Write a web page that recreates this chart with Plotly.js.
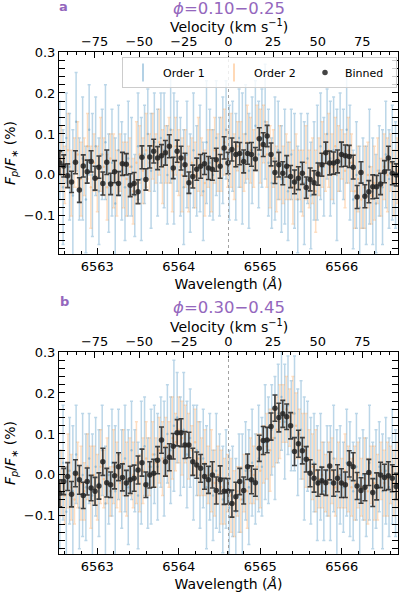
<!DOCTYPE html>
<html>
<head>
<meta charset="utf-8">
<script src="https://cdn.plot.ly/plotly-3.0.1.min.js"></script>
<style>html,body{margin:0;padding:0;background:#fff;overflow:hidden;width:400px;height:593px;}#chart{width:400px;height:593px;}</style>
</head>
<body>
<div id="chart"></div>
<script>
// ---------- data ----------
const lineCenter = 6564.61;          // H-alpha rest wavelength (Å), velocity zero
const wlRange = [6562.53, 6566.69];
const panelTitles = ['<i>ϕ</i>=0.10−0.25', '<i>ϕ</i>=0.30−0.45'];
const panelLetters = ['a', 'b'];
const seriesNames = ['Order 1', 'Order 2', 'Binned'];

const order1Wave = [6562.54,6562.58,6562.62,6562.66,6562.70,6562.74,6562.78,6562.82,6562.86,6562.90,
6562.94,6562.98,6563.02,6563.06,6563.10,6563.14,6563.18,6563.22,6563.26,6563.30,
6563.34,6563.38,6563.42,6563.46,6563.50,6563.54,6563.58,6563.62,6563.66,6563.70,
6563.74,6563.78,6563.82,6563.86,6563.90,6563.94,6563.98,6564.02,6564.06,6564.10,
6564.14,6564.18,6564.22,6564.26,6564.30,6564.34,6564.38,6564.42,6564.46,6564.50,
6564.54,6564.58,6564.62,6564.66,6564.70,6564.74,6564.78,6564.82,6564.86,6564.90,
6564.94,6564.98,6565.02,6565.06,6565.10,6565.14,6565.18,6565.22,6565.26,6565.30,
6565.34,6565.38,6565.42,6565.46,6565.50,6565.54,6565.58,6565.62,6565.66,6565.70,
6565.74,6565.78,6565.82,6565.86,6565.90,6565.94,6565.98,6566.02,6566.06,6566.10,
6566.14,6566.18,6566.22,6566.26,6566.30,6566.34,6566.38,6566.42,6566.46,6566.50,
6566.54,6566.58,6566.62,6566.66];

const order2Wave = [6562.56,6562.60,6562.64,6562.68,6562.72,6562.76,6562.80,6562.84,6562.88,6562.92,
6562.96,6563.00,6563.04,6563.08,6563.12,6563.16,6563.20,6563.24,6563.28,6563.32,
6563.36,6563.40,6563.44,6563.48,6563.52,6563.56,6563.60,6563.64,6563.68,6563.72,
6563.76,6563.80,6563.84,6563.88,6563.92,6563.96,6564.00,6564.04,6564.08,6564.12,
6564.16,6564.20,6564.24,6564.28,6564.32,6564.36,6564.40,6564.44,6564.48,6564.52,
6564.56,6564.60,6564.64,6564.68,6564.72,6564.76,6564.80,6564.84,6564.88,6564.92,
6564.96,6565.00,6565.04,6565.08,6565.12,6565.16,6565.20,6565.24,6565.28,6565.32,
6565.36,6565.40,6565.44,6565.48,6565.52,6565.56,6565.60,6565.64,6565.68,6565.72,
6565.76,6565.80,6565.84,6565.88,6565.92,6565.96,6566.00,6566.04,6566.08,6566.12,
6566.16,6566.20,6566.24,6566.28,6566.32,6566.36,6566.40,6566.44,6566.48,6566.52,
6566.56,6566.60,6566.64,6566.68];

const binWave = [6562.540,6562.588,6562.636,6562.684,6562.732,6562.780,6562.828,6562.876,6562.924,6562.972,
6563.020,6563.068,6563.116,6563.164,6563.212,6563.260,6563.308,6563.356,6563.404,6563.452,
6563.500,6563.548,6563.596,6563.644,6563.692,6563.740,6563.788,6563.836,6563.884,6563.932,
6563.980,6564.028,6564.076,6564.124,6564.172,6564.220,6564.268,6564.316,6564.364,6564.412,
6564.460,6564.508,6564.556,6564.604,6564.652,6564.700,6564.748,6564.796,6564.844,6564.892,
6564.940,6564.988,6565.036,6565.084,6565.132,6565.180,6565.228,6565.276,6565.324,6565.372,
6565.420,6565.468,6565.516,6565.564,6565.612,6565.660,6565.708,6565.756,6565.804,6565.852,
6565.900,6565.948,6565.996,6566.044,6566.092,6566.140,6566.188,6566.236,6566.284,6566.332,
6566.380,6566.428,6566.476,6566.524,6566.572,6566.620,6566.668];

// Panel a (phase 0.10-0.25), percent
const order1A = [0.06,-0.03,0.09,0.02,-0.05,0.13,-0.01,0.04,-0.06,0.11,
0.00,0.07,-0.04,0.05,0.08,-0.02,0.03,-0.07,0.06,0.01,
-0.03,0.04,0.02,-0.05,0.07,-0.01,0.05,0.10,0.01,0.08,
0.03,0.09,0.06,0.00,0.11,0.04,0.07,0.02,-0.03,0.05,
-0.02,0.06,0.01,0.04,-0.04,0.08,0.03,0.00,0.09,0.02,
0.06,0.11,0.03,0.07,0.02,0.09,0.04,0.10,0.01,0.06,
0.12,0.05,0.09,0.13,0.03,-0.02,0.04,0.06,-0.01,0.02,
-0.04,0.05,0.01,-0.06,0.03,-0.02,0.04,-0.05,0.01,0.03,
0.07,0.02,0.10,0.04,0.06,0.00,0.08,0.05,0.11,0.03,
-0.06,0.00,-0.08,-0.02,-0.05,0.02,-0.04,-0.07,0.01,-0.03,
0.05,-0.01,0.03,0.00];
const order2A = [0.04,0.00,0.06,-0.02,0.03,0.05,-0.01,0.02,0.07,-0.03,
0.03,-0.01,0.05,0.02,-0.03,0.04,0.01,-0.02,0.03,0.00,
-0.01,0.02,-0.04,0.03,0.05,0.01,0.06,0.03,0.07,0.04,
0.08,0.02,0.05,0.06,0.01,0.07,0.03,0.00,0.04,-0.01,
0.03,0.00,0.05,0.02,-0.02,0.04,0.01,0.06,0.03,0.05,
0.08,0.04,0.06,0.02,0.07,0.05,0.03,0.08,0.06,0.04,
0.09,0.07,0.10,0.05,0.02,0.04,-0.01,0.03,0.00,0.02,
0.01,-0.03,0.02,0.00,-0.02,0.03,-0.01,0.01,-0.04,0.02,
0.05,0.03,0.06,0.02,0.07,0.04,0.05,0.01,0.06,0.03,
-0.04,-0.01,-0.06,-0.03,0.00,-0.05,-0.02,0.01,-0.03,0.02,
0.00,0.03,-0.02,0.01];
const binA = [0.029,0.022,-0.002,-0.017,0.031,-0.037,0.022,0.008,0.033,-0.008,
0.019,-0.021,0.031,-0.022,0.008,-0.021,0.027,0.026,-0.025,-0.021,
-0.041,0.043,-0.011,0.044,0.058,0.041,0.047,0.054,0.070,0.017,
0.058,0.041,0.025,-0.019,-0.004,0.014,0.021,0.027,0.017,0.014,
0.037,0.021,0.066,0.029,0.062,0.050,0.052,0.033,0.052,0.050,
0.039,0.088,0.074,0.095,0.050,0.006,0.025,0.004,0.021,-0.004,
-0.017,-0.008,0.004,-0.031,-0.011,-0.019,0.002,0.025,0.054,0.029,
0.029,0.033,0.050,0.047,0.045,0.019,-0.054,0.006,-0.052,-0.041,
-0.029,-0.029,-0.022,0.008,0.041,0.004,0.000];
const binErrA = [0.028,0.027,0.029,0.026,0.028,0.030,0.027,0.028,0.026,0.029,
0.027,0.028,0.030,0.026,0.027,0.029,0.028,0.026,0.028,0.027,
0.029,0.028,0.026,0.027,0.029,0.028,0.027,0.030,0.028,0.026,
0.027,0.029,0.028,0.026,0.028,0.027,0.029,0.026,0.028,0.027,
0.028,0.029,0.027,0.026,0.028,0.030,0.027,0.028,0.026,0.029,
0.028,0.027,0.029,0.026,0.028,0.027,0.030,0.028,0.026,0.027,
0.029,0.028,0.027,0.026,0.028,0.029,0.027,0.028,0.026,0.029,
0.027,0.028,0.030,0.026,0.027,0.029,0.028,0.026,0.028,0.027,
0.029,0.028,0.026,0.027,0.029,0.028,0.027];

// Panel b (phase 0.30-0.45), percent
const order1B = [-0.06,0.03,-0.09,0.01,-0.04,0.05,-0.08,0.00,-0.03,0.04,
-0.05,0.02,-0.02,0.06,-0.07,0.00,0.03,-0.04,0.05,-0.01,
0.04,-0.03,0.06,0.01,-0.05,0.03,0.07,-0.02,0.02,0.05,
0.02,0.08,0.04,0.10,0.06,0.12,0.14,0.07,0.11,0.05,
0.09,0.03,0.06,0.00,0.04,-0.03,0.02,-0.05,0.01,-0.02,
-0.06,-0.01,-0.08,-0.04,-0.09,-0.02,-0.06,0.01,-0.03,0.03,
-0.01,0.04,0.02,0.08,0.06,0.11,0.09,0.15,0.19,0.13,
0.17,0.12,0.15,0.08,0.11,0.04,0.07,0.01,0.03,-0.02,
0.02,-0.04,0.01,-0.02,0.04,-0.05,0.00,-0.03,0.03,-0.01,
-0.04,0.02,-0.06,0.00,-0.03,0.03,-0.05,-0.01,0.02,-0.04,
0.01,-0.03,0.02,-0.02];
const order2B = [-0.02,-0.05,0.01,-0.03,-0.06,0.00,-0.02,-0.04,0.02,-0.03,
0.00,-0.03,0.02,-0.01,0.01,-0.04,0.02,0.00,-0.02,0.03,
-0.01,0.02,0.00,0.03,-0.02,0.01,0.04,0.02,0.05,0.03,
0.06,0.04,0.07,0.05,0.09,0.08,0.11,0.09,0.10,0.07,
0.06,0.08,0.04,0.02,0.03,0.00,0.01,-0.02,0.00,-0.03,
-0.04,-0.02,-0.05,-0.07,-0.04,-0.06,-0.02,-0.04,0.01,0.00,
0.02,0.01,0.05,0.07,0.06,0.09,0.11,0.13,0.15,0.16,
0.14,0.15,0.12,0.10,0.07,0.06,0.04,0.02,0.01,-0.01,
0.00,-0.02,-0.01,0.01,-0.03,0.00,-0.02,0.01,-0.01,-0.03,
-0.02,0.00,-0.03,-0.01,-0.04,0.00,-0.02,-0.03,0.01,-0.02,
-0.01,0.00,-0.02,0.00];
const binB = [-0.045,-0.016,-0.004,-0.047,0.004,-0.012,-0.050,-0.016,-0.032,-0.040,
-0.027,0.032,-0.019,-0.024,-0.002,0.020,-0.006,-0.020,-0.012,-0.008,
0.012,0.030,-0.024,0.000,0.004,0.036,0.085,0.032,0.043,0.070,
0.103,0.103,0.073,0.073,0.032,0.024,0.016,-0.004,-0.012,0.000,
-0.038,-0.012,-0.040,-0.040,-0.070,-0.053,-0.016,-0.038,0.020,-0.012,
-0.019,0.065,0.084,0.085,0.118,0.163,0.140,0.149,0.142,0.120,
0.057,0.076,0.059,0.038,0.004,-0.008,-0.020,-0.014,-0.019,0.022,
-0.020,-0.008,-0.020,-0.024,0.027,0.020,-0.027,-0.038,-0.030,0.006,
-0.043,-0.028,0.000,-0.006,-0.002,-0.008,-0.028];
const binErrB = [0.033,0.032,0.034,0.031,0.033,0.035,0.032,0.033,0.031,0.034,
0.032,0.033,0.035,0.031,0.032,0.034,0.033,0.031,0.033,0.032,
0.034,0.033,0.031,0.032,0.034,0.033,0.032,0.035,0.033,0.031,
0.032,0.034,0.033,0.031,0.033,0.032,0.034,0.031,0.033,0.032,
0.033,0.034,0.032,0.031,0.033,0.035,0.032,0.033,0.031,0.034,
0.033,0.032,0.034,0.031,0.033,0.032,0.035,0.033,0.031,0.032,
0.034,0.033,0.032,0.031,0.033,0.034,0.032,0.033,0.031,0.034,
0.032,0.033,0.035,0.031,0.032,0.034,0.033,0.031,0.033,0.032,
0.034,0.033,0.031,0.032,0.034,0.033,0.032];

// per-pixel uncertainties of each order (percent)
const order1Err = [0.12,0.14,0.11,0.13,0.16,0.12,0.10,0.15,0.13,0.11,
0.15,0.12,0.13,0.11,0.14,0.12,0.13,0.16,0.11,0.12,
0.13,0.14,0.12,0.10,0.13,0.15,0.12,0.11,0.14,0.12,
0.13,0.11,0.14,0.12,0.13,0.16,0.11,0.12,0.14,0.13,
0.12,0.14,0.11,0.13,0.12,0.15,0.13,0.11,0.14,0.12,
0.13,0.12,0.14,0.11,0.13,0.12,0.16,0.12,0.14,0.13,
0.11,0.13,0.12,0.14,0.13,0.11,0.15,0.12,0.13,0.14,
0.12,0.11,0.14,0.13,0.12,0.15,0.11,0.13,0.12,0.14,
0.13,0.12,0.11,0.14,0.13,0.16,0.12,0.11,0.13,0.14,
0.12,0.13,0.15,0.11,0.12,0.14,0.13,0.12,0.11,0.14,
0.13,0.12,0.14,0.13];
const order2Err = [0.08,0.07,0.09,0.08,0.06,0.08,0.09,0.07,0.08,0.10,
0.07,0.08,0.09,0.07,0.08,0.06,0.09,0.08,0.07,0.08,
0.09,0.07,0.08,0.10,0.07,0.08,0.09,0.07,0.08,0.06,
0.08,0.09,0.07,0.08,0.10,0.07,0.08,0.09,0.07,0.08,
0.06,0.08,0.09,0.07,0.08,0.07,0.10,0.08,0.07,0.09,
0.08,0.07,0.09,0.08,0.06,0.08,0.07,0.09,0.08,0.07,
0.08,0.09,0.07,0.08,0.10,0.07,0.08,0.09,0.07,0.08,
0.07,0.09,0.08,0.06,0.08,0.09,0.07,0.08,0.10,0.07,
0.08,0.07,0.09,0.08,0.07,0.08,0.06,0.09,0.08,0.07,
0.09,0.08,0.07,0.10,0.08,0.07,0.09,0.08,0.07,0.08,
0.09,0.07,0.08,0.08];

// ---------- styling ----------
const FONT = 'DejaVu Sans, Liberation Sans, sans-serif';
const PURPLE = '#9467bd';
const C1 = 'rgba(31,119,180,0.30)';
const C2 = 'rgba(255,127,14,0.26)';
const C1L = 'rgba(31,119,180,0.45)';
const C2L = 'rgba(255,127,14,0.40)';
const CB = 'rgba(35,35,35,0.85)';
const SPEED_C = 299792.458;
const velRange = wlRange.map(w => (w - lineCenter) / lineCenter * SPEED_C);

const W = 400, H = 593;
const xDom = [59 / W, 398 / W];
const yDomA = [1 - 254 / H, 1 - 52 / H];
const yDomB = [1 - 554 / H, 1 - 352 / H];

function orderTrace(x, y, err, color, name, xa, ya) {
  return {
    type: 'scatter', mode: 'markers', x: x, y: y, name: name,
    xaxis: xa, yaxis: ya, showlegend: false, legendgroup: name,
    marker: {size: 2.5, color: color},
    error_y: {type: 'data', array: err, visible: true, color: color, thickness: 1.5, width: 1.5},
    hoverinfo: 'skip'
  };
}
function binTrace(x, y, err, xa, ya, showLeg) {
  return {
    type: 'scatter', mode: 'markers', x: x, y: y, name: seriesNames[2],
    xaxis: xa, yaxis: ya, showlegend: showLeg, legendgroup: 'bin', legendrank: 3,
    marker: {size: 5.5, color: CB},
    error_y: {type: 'data', array: err, visible: true, color: CB, thickness: 1.6, width: 2.5},
    hoverinfo: 'skip'
  };
}
// legend keys (error-bar glyph) for the two orders; no plotted points
function legendKey(name, color, rank) {
  return {
    type: 'scatter', mode: 'markers', x: [null], y: [null], name: name,
    xaxis: 'x', yaxis: 'y', showlegend: true, legendrank: rank,
    marker: {symbol: 'line-ns-open', size: 13, color: color, line: {color: color, width: 1.5}},
    hoverinfo: 'skip'
  };
}

const traces = [
  orderTrace(order1Wave, order1A, order1Err, C1, seriesNames[0], 'x', 'y'),
  orderTrace(order2Wave, order2A, order2Err, C2, seriesNames[1], 'x', 'y'),
  binTrace(binWave, binA, binErrA, 'x', 'y', true),
  {type: 'scatter', x: [], y: [], xaxis: 'x2', yaxis: 'y', showlegend: false, hoverinfo: 'skip'},
  orderTrace(order1Wave, order1B, order1Err, C1, seriesNames[0], 'x3', 'y2'),
  orderTrace(order2Wave, order2B, order2Err, C2, seriesNames[1], 'x3', 'y2'),
  binTrace(binWave, binB, binErrB, 'x3', 'y2', false),
  {type: 'scatter', x: [], y: [], xaxis: 'x4', yaxis: 'y2', showlegend: false, hoverinfo: 'skip'},
  legendKey(seriesNames[0], C1L, 1),
  legendKey(seriesNames[1], C2L, 2)
];

const tickFont = {family: FONT, size: 13, color: '#000'};
const titleFont = {family: FONT, size: 14, color: '#000'};

function wlAxis(anchor) {
  return {
    domain: xDom, anchor: anchor, range: wlRange, autorange: false,
    tickmode: 'linear', tick0: 6563, dtick: 1,
    ticks: 'inside', ticklen: 6, tickwidth: 1, tickcolor: '#000',
    minor: {tickmode: 'linear', tick0: 6563, dtick: 0.2, ticks: 'inside', ticklen: 3, tickwidth: 1, tickcolor: '#000', showgrid: false},
    showline: true, linecolor: '#000', linewidth: 1, mirror: false,
    showgrid: false, zeroline: false, tickfont: tickFont, automargin: false,
    title: {text: 'Wavelength (<i>Å</i>)', font: titleFont, standoff: 6}
  };
}
function velAxis(over, anchor) {
  return {
    overlaying: over, anchor: anchor, side: 'top', range: velRange, autorange: false,
    tickmode: 'linear', tick0: 0, dtick: 25,
    ticks: 'inside', ticklen: 6, tickwidth: 1, tickcolor: '#000',
    minor: {tickmode: 'linear', tick0: 0, dtick: 5, ticks: 'inside', ticklen: 3, tickwidth: 1, tickcolor: '#000', showgrid: false},
    showline: true, linecolor: '#000', linewidth: 1, automargin: false,
    showgrid: false, zeroline: false, tickfont: tickFont
  };
}
function fluxAxis(dom, anchor) {
  return {
    domain: dom, anchor: anchor, range: [-0.193, 0.3], autorange: false,
    tickmode: 'linear', tick0: 0, dtick: 0.1, tickformat: '.1f',
    ticks: 'inside', ticklen: 6, tickwidth: 1, tickcolor: '#000',
    minor: {tickmode: 'linear', tick0: 0, dtick: 0.02, ticks: 'inside', ticklen: 3, tickwidth: 1, tickcolor: '#000', showgrid: false},
    showline: true, linecolor: '#000', linewidth: 1, mirror: 'allticks',
    showgrid: false, zeroline: false, tickfont: tickFont, automargin: false,
    title: {text: '<i>F</i><sub><i>p</i></sub>/<i>F</i><sub>∗</sub> (%)', font: titleFont, standoff: 4}
  };
}

function ann(x, y, text, size) {
  return {xref: 'paper', yref: 'paper', x: x / W, y: 1 - y / H, text: text, showarrow: false,
          xanchor: 'center', yanchor: 'middle', font: {family: FONT, size: size, color: '#000'}};
}
const velTitle = 'Velocity (km s<sup>−1</sup>)';
const annotations = [
  ann(63, 6, '<b>' + panelLetters[0] + '</b>', 13),
  ann(228.5, 8.5, panelTitles[0], 16.5),
  ann(228.5, 26, velTitle, 14),
  ann(64, 302, '<b>' + panelLetters[1] + '</b>', 13),
  ann(228.5, 307, panelTitles[1], 16.5),
  ann(228.5, 326, velTitle, 14)
];
[0, 1, 3, 4].forEach(i => { annotations[i].font.color = PURPLE; });

const layout = {
  width: W, height: H, autosize: false,
  margin: {l: 0, r: 0, t: 0, b: 0, pad: 0},
  paper_bgcolor: '#fff', plot_bgcolor: '#fff',
  font: {family: FONT, color: '#000'},
  xaxis: wlAxis('y'),
  xaxis2: velAxis('x', 'y'),
  yaxis: fluxAxis(yDomA, 'x'),
  xaxis3: wlAxis('y2'),
  xaxis4: velAxis('x3', 'y2'),
  yaxis2: fluxAxis(yDomB, 'x3'),
  showlegend: true,
  legend: {
    orientation: 'h', x: 397 / W, xanchor: 'right', y: 1 - 57 / H, yanchor: 'top',
    bgcolor: 'rgba(255,255,255,0.8)', bordercolor: '#cccccc', borderwidth: 1,
    font: {family: FONT, size: 11, color: '#000'},
    entrywidth: 46, entrywidthmode: 'pixels', tracegroupgap: 0, traceorder: 'normal'
  },
  shapes: [
    {type: 'line', xref: 'x', yref: 'y domain', x0: lineCenter, x1: lineCenter, y0: 0, y1: 1,
     line: {color: '#999', width: 0.9, dash: 'dot'}, layer: 'above'},
    {type: 'line', xref: 'x3', yref: 'y2 domain', x0: lineCenter, x1: lineCenter, y0: 0, y1: 1,
     line: {color: '#999', width: 0.9, dash: 'dot'}, layer: 'above'}
  ],
  annotations: annotations
};

Plotly.newPlot('chart', traces, layout, {displayModeBar: false, staticPlot: true, responsive: false});
</script>
</body>
</html>
